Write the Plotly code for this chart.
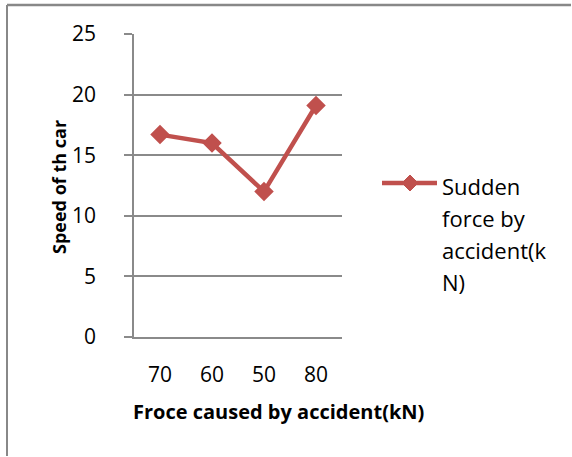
import plotly.graph_objects as go

categories = ["70", "60", "50", "80"]
speeds = [16.7, 16.0, 12.0, 19.1]
series_name = "Sudden force by accident(kN)"
legend_lines = ["Sudden", "force by", "accident(k", "N)"]
y_ticks = [0, 5, 10, 15, 20, 25]

RED = "#C0504D"
GRID = "#8a8a8a"
FONT = "Open Sans"
TICK_FS = 21
LEG_FS = 22

fig = go.Figure()
fig.add_trace(go.Scatter(
    x=categories, y=speeds, mode="lines+markers", name=series_name,
    line=dict(color=RED, width=4.5),
    marker=dict(symbol="diamond", size=15, color=RED),
    showlegend=False,
))

W, H = 572, 457
L, R, T, B = 134, 342, 34, 337

fig.update_layout(
    width=W, height=H,
    margin=dict(l=L, r=W - R, t=T, b=H - B),
    paper_bgcolor="white", plot_bgcolor="white",
    font=dict(family=FONT, size=TICK_FS, color="black"),
)
fig.update_xaxes(
    type="category", range=[-0.5, len(categories) - 0.5],
    showgrid=False, showline=True, linecolor=GRID, linewidth=1.5,
    ticks="", ticklabelstandoff=18, tickfont=dict(size=TICK_FS),
)
fig.update_yaxes(
    range=[0, 25], tickvals=y_ticks, showgrid=True, gridcolor=GRID, gridwidth=1.5,
    showline=True, linecolor=GRID, linewidth=1.5, ticks="outside", ticklen=8,
    tickcolor=GRID, tickwidth=1.5, ticklabelstandoff=24, zeroline=False,
    tickfont=dict(size=TICK_FS),
)

def to_ax(x, y):
    return (x - L) / (R - L), (B - y) / (B - T)

# axis titles
tx, ty = to_ax(278, 411)
fig.add_annotation(text="<b>Froce caused by accident(kN)</b>", xref="paper", yref="paper",
                   x=tx, y=ty, showarrow=False, font=dict(size=20),
                   xanchor="center", yanchor="middle")
tx, ty = to_ax(59, 187)
fig.add_annotation(text="<b>Speed of th car</b>", xref="paper", yref="paper",
                   x=tx, y=ty, showarrow=False, textangle=-90, font=dict(size=18),
                   xanchor="center", yanchor="middle")

# legend sample (line + diamond)
x0, yy = to_ax(382, 183)
x1, _ = to_ax(437, 183)
fig.add_shape(type="line", xref="paper", yref="paper", x0=x0, x1=x1, y0=yy, y1=yy,
              line=dict(color=RED, width=4.5))
cx, cy = 410, 183
pts = [(cx, cy - 8), (cx + 8, cy), (cx, cy + 8), (cx - 8, cy)]
path = "M " + " L ".join(f"{to_ax(a, b)[0]},{to_ax(a, b)[1]}" for a, b in pts) + " Z"
fig.add_shape(type="path", xref="paper", yref="paper", path=path,
              fillcolor=RED, line=dict(color=RED, width=1))

for i, line in enumerate(legend_lines):
    lx, ly = to_ax(440, 186 + i * 32)
    fig.add_annotation(text=line, xref="paper", yref="paper", x=lx, y=ly,
                       showarrow=False, xanchor="left", yanchor="middle",
                       font=dict(size=LEG_FS))

# outer border: top and left edges of the chart frame
p_tl = to_ax(7, 5)
p_tr = to_ax(571, 5)
p_bl = to_ax(7, 456)
fig.add_shape(type="line", xref="paper", yref="paper",
              x0=p_tl[0], y0=p_tl[1], x1=p_tr[0], y1=p_tr[1],
              line=dict(color="#888888", width=2.5))
fig.add_shape(type="line", xref="paper", yref="paper",
              x0=p_tl[0], y0=p_tl[1], x1=p_bl[0], y1=p_bl[1],
              line=dict(color="#888888", width=2))

fig.write_html("out.html", config={"displayModeBar": False},
               post_script="document.body.style.margin='0';")
